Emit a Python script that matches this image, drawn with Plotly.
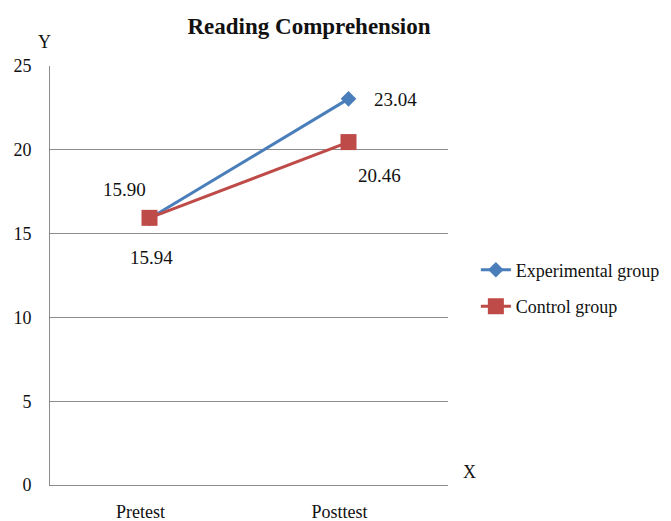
import plotly.graph_objects as go

categories = ["Pretest", "Posttest"]
experimental = [15.90, 23.04]
control = [15.94, 20.46]
exp_labels = ["15.90", "23.04"]
ctl_labels = ["15.94", "20.46"]
series_names = ["Experimental group", "Control group"]
y_ticks = [0, 5, 10, 15, 20, 25]

BLUE = "#4A7EBB"
RED = "#BE4B48"
FONT = "Liberation Serif"
TXT = "#111111"

fig = go.Figure()
fig.add_trace(go.Scatter(
    x=categories, y=experimental, mode="lines+markers", name=series_names[0],
    line=dict(color=BLUE, width=3), legendgroup="a",
    marker=dict(symbol="diamond", size=12, color=BLUE),
))
fig.add_trace(go.Scatter(
    x=categories, y=control, mode="lines+markers", name=series_names[1],
    line=dict(color=RED, width=3), legendgroup="b",
    marker=dict(symbol="square", size=16, color=RED),
))

# data labels (offsets in pixels from the data point)
exp_off = [(-25, 29), (47, -1)]
ctl_off = [(2, -40), (31, -33)]
for xi, yi, t, (dx, dy) in zip(categories, experimental, exp_labels, exp_off):
    fig.add_annotation(x=xi, y=yi, text=t, showarrow=False, xshift=dx, yshift=dy,
                       font=dict(family=FONT, size=19, color=TXT))
for xi, yi, t, (dx, dy) in zip(categories, control, ctl_labels, ctl_off):
    fig.add_annotation(x=xi, y=yi, text=t, showarrow=False, xshift=dx, yshift=dy,
                       font=dict(family=FONT, size=19, color=TXT))

fig.add_annotation(xref="paper", yref="paper", x=-0.0126, y=1.057, text="Y",
                   xanchor="center", yanchor="middle",
                   showarrow=False, font=dict(family=FONT, size=18, color=TXT))
fig.add_annotation(xref="paper", yref="paper", x=1.055, y=0.031, text="X",
                   xanchor="center", yanchor="middle",
                   showarrow=False, font=dict(family=FONT, size=18, color=TXT))

fig.update_layout(
    width=663, height=513,
    margin=dict(l=42, r=223, t=58, b=36, autoexpand=False),
    paper_bgcolor="white", plot_bgcolor="white",
    font=dict(family=FONT, size=18, color=TXT),
    title=dict(text="<b>Reading Comprehension</b>", x=301/663, xanchor="center",
               y=1 - 17.5/513, yanchor="middle", font=dict(family=FONT, size=23, color=TXT)),
    showlegend=True,
    legend=dict(x=1.070, y=0.557, xanchor="left", yanchor="top",
                font=dict(family=FONT, size=18, color=TXT),
                tracegroupgap=10, traceorder="grouped", bgcolor="rgba(0,0,0,0)"),
    xaxis=dict(range=[-0.5, 1.5], showgrid=False, showline=True, linecolor="#8c8c8c",
               linewidth=1, ticks="", ticklabelstandoff=10, ticklabelshift=-9,
               zeroline=False, automargin=False,
               tickfont=dict(family=FONT, size=18, color=TXT)),
    yaxis=dict(range=[0, 25], tickvals=y_ticks, showgrid=True, gridcolor="#8c8c8c",
               gridwidth=1, showline=True, linecolor="#8c8c8c", linewidth=1,
               zeroline=False, ticks="", ticklabelstandoff=14, automargin=False,
               tickfont=dict(family=FONT, size=18, color=TXT)),
)

fig.write_html("out.html")
